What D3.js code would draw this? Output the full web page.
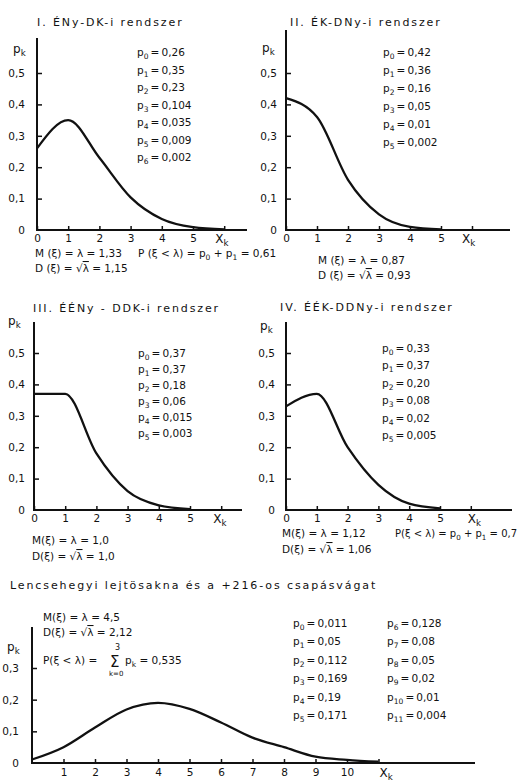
<!DOCTYPE html>
<html>
<head>
<meta charset="utf-8">
<script src="https://cdn.jsdelivr.net/npm/d3@7"></script>
<style>
  body { margin: 0; background: #fff; }
  svg text { font-family: "DejaVu Sans", sans-serif; fill: #111; }
</style>
</head>
<body>
<svg id="chart"></svg>
<script>
const pI = [0.26, 0.35, 0.23, 0.104, 0.035, 0.009, 0.002];
const pII = [0.42, 0.36, 0.16, 0.05, 0.01, 0.002];
const pIII = [0.37, 0.37, 0.18, 0.06, 0.015, 0.003];
const pIV = [0.33, 0.37, 0.20, 0.08, 0.02, 0.005];
const pV = [0.011, 0.05, 0.112, 0.169, 0.19, 0.171, 0.128, 0.08, 0.05, 0.02, 0.01, 0.004];

const titles = ['I. ÉNy-DK-i rendszer', 'II. ÉK-DNy-i rendszer', 'III. ÉÉNy - DDK-i rendszer',
  'IV. ÉÉK-DDNy-i rendszer', 'Lencsehegyi lejtösakna és a +216-os csapásvágat'];
const lambdas = [1.33, 0.87, 1.0, 1.12, 4.5];
const sigmas = [1.15, 0.93, 1.0, 1.06, 2.12];
const probLess = [0.61, null, null, 0.7, 0.535];

const yTicksTop = [0, 0.1, 0.2, 0.3, 0.4, 0.5];
const yTicksBottom = [0, 0.1, 0.2, 0.3];
const xTicksTop = [0, 1, 2, 3, 4, 5, 6];
const xTicksBottom = [1, 2, 3, 4, 5, 6, 7, 8, 9, 10, 11];

const svg = d3.select('#chart').attr('width', 519).attr('height', 782);
const thin = '\u2009';

// number with decimal comma, at least minDec decimals
function fmt(v, minDec) {
  const s = String(v);
  const dec = s.includes('.') ? s.split('.')[1].length : 0;
  return v.toFixed(Math.max(minDec, dec)).replace('.', ',');
}

// tiny markup: _{..} subscript, ~{..} overline
function rich(g, x, y, str, size) {
  const t = g.append('text').attr('x', x).attr('y', y).style('font-size', size + 'px');
  let sub = false;
  str.split(/(_\{[^}]*\}|~\{[^}]*\})/).forEach(part => {
    if (!part) return;
    if (part.startsWith('_{')) {
      t.append('tspan').attr('dy', 3).style('font-size', (size * 0.72) + 'px').text(part.slice(2, -1));
      sub = true;
    } else {
      const ts = t.append('tspan').attr('dy', sub ? -3 : 0);
      if (part.startsWith('~{')) ts.style('text-decoration', 'overline').text(part.slice(2, -1));
      else ts.text(part);
      sub = false;
    }
  });
  return t;
}

function panel(cfg, i) {
  const g = svg.append('g');
  const x = d3.scaleLinear().domain(cfg.xDom).range(cfg.xRange);
  const y = d3.scaleLinear().domain(cfg.yDom).range(cfg.yRange);
  const ox = x(0), oy = y(0);

  // axes lines
  g.append('line').attr('x1', ox).attr('x2', ox).attr('y1', oy + 1).attr('y2', cfg.top)
    .attr('stroke', '#111').attr('stroke-width', 2);
  g.append('line').attr('x1', ox - 1).attr('x2', cfg.xEnd).attr('y1', oy).attr('y2', oy)
    .attr('stroke', '#111').attr('stroke-width', 2);

  const yAxis = g.append('g').attr('transform', `translate(${ox},0)`)
    .call(d3.axisLeft(y).tickValues(cfg.yTicks).tickSize(-5).tickPadding(cfg.yPad)
      .tickFormat(d => d === 0 ? '0' : fmt(d, 1)));
  const xLast = cfg.xTicks[cfg.xTicks.length - 1];
  const xAxis = g.append('g').attr('transform', `translate(0,${oy})`)
    .call(d3.axisBottom(x).tickValues(cfg.xTicks).tickSize(-4).tickPadding(cfg.xPad)
      .tickFormat(d => d === xLast ? '' : d));
  [yAxis, xAxis].forEach(a => {
    a.select('.domain').remove();
    a.selectAll('.tick line').attr('stroke', '#111').attr('stroke-width', 1.5);
    a.selectAll('text').style('font-size', '10.5px');
  });
  yAxis.selectAll('.tick').filter(d => d === 0).select('line').remove();

  rich(g, cfg.pk[0], cfg.pk[1], 'p_{k}', 12);
  rich(g, x(xLast) + cfg.xkDx, oy + cfg.xPad + 8, 'X_{k}', 12);

  // smooth curve through (k, p_k)
  const line = d3.line().x((d, k) => x(k)).y(d => y(d)).curve(d3.curveMonotoneX);
  g.append('path').datum(cfg.values).attr('d', line)
    .attr('fill', 'none').attr('stroke', '#111').attr('stroke-width', 2.3);

  // title
  g.append('text').attr('x', cfg.title[0]).attr('y', cfg.title[1]).text(titles[i])
    .style('font-size', '11px').style('letter-spacing', '1.9px');

  // p_k list
  const rows = cfg.cols || cfg.values.length;
  const colDx = cfg.colDx || 0;
  cfg.values.forEach((v, k) => {
    const col = Math.floor(k / rows);
    const row = k % rows;
    rich(g, cfg.list[0] + col * colDx, cfg.list[1] + row * cfg.list[2],
      `p_{${k}}${thin}=${thin}${fmt(v, 2)}`, 10.5);
  });

  // stats
  const sp = cfg.tight ? '' : ' ';
  rich(g, cfg.m[0], cfg.m[1], `M${sp}(ξ) = λ = ${fmt(lambdas[i], 1)}`, 10.5);
  rich(g, cfg.m[0], cfg.m[1] + cfg.m[2], `D${sp}(ξ) = √~{λ} = ${fmt(sigmas[i], 1)}`, 10.5);
  if (cfg.p) rich(g, cfg.p[0], cfg.p[1], `P${sp}(ξ < λ) = p_{0} + p_{1} = ${fmt(probLess[i], 1)}`, cfg.pSize || 10.5);
  return g;
}

const panels = [
  { values: pI, xDom: [0, 5], xRange: [37, 193], yDom: [0, 0.5], yRange: [230, 73], top: 38, xEnd: 247,
    xTicks: xTicksTop, yTicks: yTicksTop, yPad: 12, xPad: 5, xkDx: -9, pk: [13, 53],
    title: [37, 26], list: [137, 56, 17.5], m: [35, 257, 15], p: [138, 257] },
  { values: pII, xDom: [0, 5], xRange: [286, 441], yDom: [0, 0.5], yRange: [230, 73], top: 30, xEnd: 510,
    xTicks: xTicksTop, yTicks: yTicksTop, yPad: 9, xPad: 5, xkDx: -10, pk: [262, 52],
    title: [290, 26], list: [383, 56, 18], m: [318, 264, 15] },
  { values: pIII, xDom: [0, 5], xRange: [34, 190], yDom: [0, 0.5], yRange: [510, 353], top: 322, xEnd: 242,
    xTicks: xTicksTop, yTicks: yTicksTop, yPad: 9, xPad: 5, xkDx: -8, pk: [8, 325],
    title: [33, 312], list: [138, 357, 16], m: [32, 544, 16], tight: true },
  { values: pIV, xDom: [0, 5], xRange: [286, 440], yDom: [0, 0.5], yRange: [510, 353], top: 322, xEnd: 512,
    xTicks: xTicksTop, yTicks: yTicksTop, yPad: 11, xPad: 5, xkDx: -3, pk: [260, 330],
    title: [280, 311], list: [382, 352, 17.4], m: [282, 537, 16], p: [395, 537], pSize: 10, tight: true },
  { values: pV, xDom: [0, 10], xRange: [32, 347], yDom: [0, 0.3], yRange: [763, 668], top: 627, xEnd: 475,
    xTicks: xTicksBottom, yTicks: yTicksBottom, yPad: 13, xPad: 6, xkDx: 1, pk: [7, 651],
    title: [10, 589], list: [293, 627, 18.4], cols: 6, colDx: 94, m: [43, 621, 15], tight: true }
];

panels.forEach((cfg, i) => panel(cfg, i));

// bottom panel: P(ξ < λ) with a sum sign
const gs = svg.append('g');
rich(gs, 43, 664, 'P(ξ < λ) =', 10.5);
gs.append('text').attr('x', 110).attr('y', 667).text('Σ').style('font-size', '15px');
gs.append('text').attr('x', 115).attr('y', 650).text('3').style('font-size', '8px');
gs.append('text').attr('x', 109).attr('y', 676).text('k=0').style('font-size', '7px');
rich(gs, 125, 664, `p_{k} = ${fmt(probLess[4], 1)}`, 10.5);
</script>
</body>
</html>
